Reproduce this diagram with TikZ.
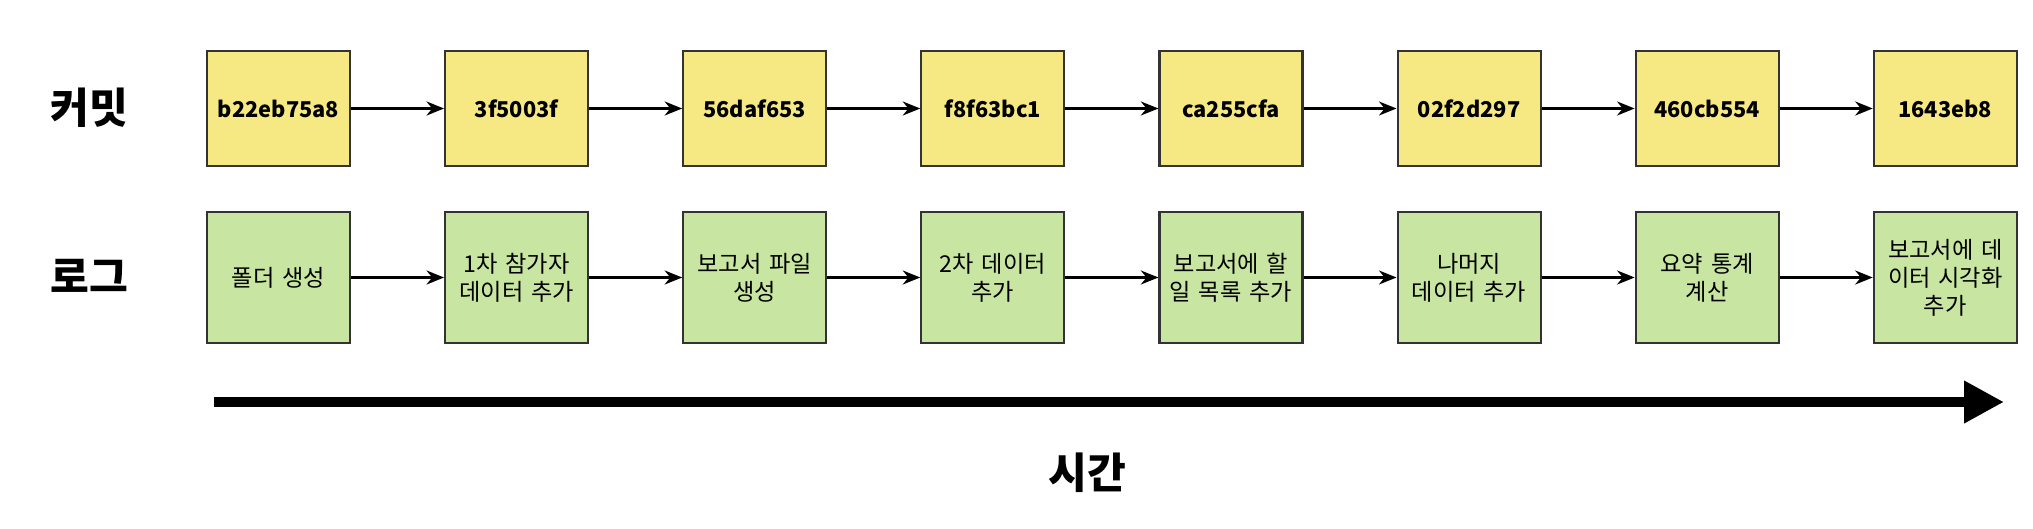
\documentclass[tikz,border=0pt]{standalone}
\usepackage{fontspec}
\setmainfont{Noto Sans CJK KR}
\usepackage{tikz}
\usetikzlibrary{arrows.meta,positioning}
\definecolor{boxyellow}{RGB}{246,232,130}
\definecolor{boxgreen}{RGB}{200,230,162}

\begin{document}
\begin{tikzpicture}[
    node distance=0.93cm,
    box/.style={rectangle, draw=black!80, line width=0.6pt, align=center, text width=1.39cm, inner sep=0.2mm, font=\fontsize{6.6}{8}\selectfont},
    commit/.style={box, fill=boxyellow, minimum height=1.15cm, font=\fontsize{6.2}{8}\selectfont\bfseries},
    log/.style={box, fill=boxgreen, minimum height=1.31cm},
    rowlabel/.style={font=\fontsize{12}{14}\selectfont\bfseries},
    arrow/.style={-{Stealth[length=5pt,width=4pt]}, line width=0.6pt}
]
    \useasboundingbox (0,0) rectangle (20.33,5.28);
    \node[rowlabel] (lblc) at (0.89,4.2) {커밋};
    \node[rowlabel] (lbll) at (0.89,2.52) {로그};

    \node[commit] (c1) at (2.785,4.195) {b22eb75a8};
    \node[commit, right=of c1] (c2) {3f5003f};
    \node[commit, right=of c2] (c3) {56daf653};
    \node[commit, right=of c3] (c4) {f8f63bc1};
    \node[commit, right=of c4] (c5) {ca255cfa};
    \node[commit, right=of c5] (c6) {02f2d297};
    \node[commit, right=of c6] (c7) {460cb554};
    \node[commit, right=of c7] (c8) {1643eb8};

    \node[log] (l1) at (2.785,2.505) {폴더 생성};
    \node[log, right=of l1] (l2) {1차 참가자\\데이터 추가};
    \node[log, right=of l2] (l3) {보고서 파일\\생성};
    \node[log, right=of l3] (l4) {2차 데이터\\추가};
    \node[log, right=of l4] (l5) {보고서에 할\\일 목록 추가};
    \node[log, right=of l5] (l6) {나머지\\데이터 추가};
    \node[log, right=of l6] (l7) {요약 통계\\계산};
    \node[log, right=of l7] (l8) {보고서에 데\\이터 시각화\\추가};

    \foreach \a/\b in {1/2,2/3,3/4,4/5,5/6,6/7,7/8} {
        \draw[arrow] (c\a) -- (c\b);
        \draw[arrow] (l\a) -- (l\b);
    }

    % time axis
    \coordinate (tstart) at (2.14,1.26);
    \coordinate (tend) at (20.04,1.26);
    \draw[line width=2.9pt, -{Triangle[length=0.4cm,width=0.4cm]}] (tstart) -- (tend);
    \node[rowlabel] (time) at (10.87,0.55) {시간};
\end{tikzpicture}
\end{document}
